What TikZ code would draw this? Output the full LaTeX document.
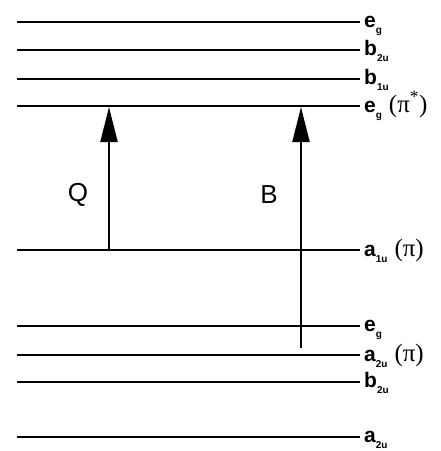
\documentclass[tikz,border=0pt]{standalone}
\usepackage{fontspec}
\setmainfont{Liberation Sans}
\newfontfamily\greekfont{Liberation Serif}
\usetikzlibrary{arrows.meta}

% subscript of a level label
\newcommand\lvsub[1]{\raisebox{-6.5pt}{\fontsize{10}{10}\selectfont\bfseries #1}}
% orbital type in brackets
\newcommand\orb[1]{\hspace{7pt}{\greekfont\mdseries\fontsize{25}{25}\selectfont(#1)}}

\begin{document}
\begin{tikzpicture}[
  x=1pt, y=-1pt,
  level/.style={line width=2.4pt},
  lab/.style={anchor=base west, inner sep=0pt, font=\bfseries\fontsize{21}{21}\selectfont},
  trans/.style={line width=2pt, -{Triangle[length=35pt,width=17pt]}},
  tlab/.style={font=\fontsize{26}{26}\selectfont}
]
\useasboundingbox (0,0) rectangle (441,451);

% Upper levels
\coordinate (egtopL) at (17,22);  \coordinate (egtopR) at (360,22);
\coordinate (btwotopL) at (17,50); \coordinate (btwotopR) at (360,50);
\coordinate (boneL) at (17,79);    \coordinate (boneR) at (360,79);
\coordinate (egpiL) at (17,106);   \coordinate (egpiR) at (360,106);

% HOMO
\coordinate (aoneL) at (17,250);   \coordinate (aoneR) at (360,250);

% Lower levels
\coordinate (eglowL) at (17,326);  \coordinate (eglowR) at (360,326);
\coordinate (atwopiL) at (17,355); \coordinate (atwopiR) at (360,355);
\coordinate (btwolowL) at (17,382);\coordinate (btwolowR) at (360,382);
\coordinate (atwoL) at (17,437);   \coordinate (atwoR) at (360,437);

\draw[level] (egtopL) -- (egtopR);
\draw[level] (btwotopL) -- (btwotopR);
\draw[level] (boneL) -- (boneR);
\draw[level] (egpiL) -- (egpiR);
\draw[level] (aoneL) -- (aoneR);
\draw[level] (eglowL) -- (eglowR);
\draw[level] (atwopiL) -- (atwopiR);
\draw[level] (btwolowL) -- (btwolowR);
\draw[level] (atwoL) -- (atwoR);

% Labels
\node[lab] (egtop) at (364,27) {e\lvsub{g}};
\node[lab] (btwotop) at (364,55) {b\lvsub{2u}};
\node[lab] (bone) at (364,84) {b\lvsub{1u}};
\node[lab] (egpi) at (364,112) {e\lvsub{g}\orb{π\textsuperscript{*}}};
\node[lab] (aone) at (364,256) {a\lvsub{1u}\orb{π}};
\node[lab] (eglow) at (364,331) {e\lvsub{g}};
\node[lab] (atwopi) at (364,361) {a\lvsub{2u}\orb{π}};
\node[lab] (btwolow) at (364,387) {b\lvsub{2u}};
\node[lab] (atwo) at (364,442) {a\lvsub{2u}};

% Transitions
\coordinate (qfoot) at (109,250);  \coordinate (qhead) at (109,107);
\coordinate (bfoot) at (301,348);  \coordinate (bhead) at (301,107);
\draw[trans] (qfoot) -- (qhead);
\draw[trans] (bfoot) -- (bhead);

\node[tlab] (qlab) at (78,195) {Q};
\node[tlab] (blab) at (269,195) {B};

\end{tikzpicture}
\end{document}
